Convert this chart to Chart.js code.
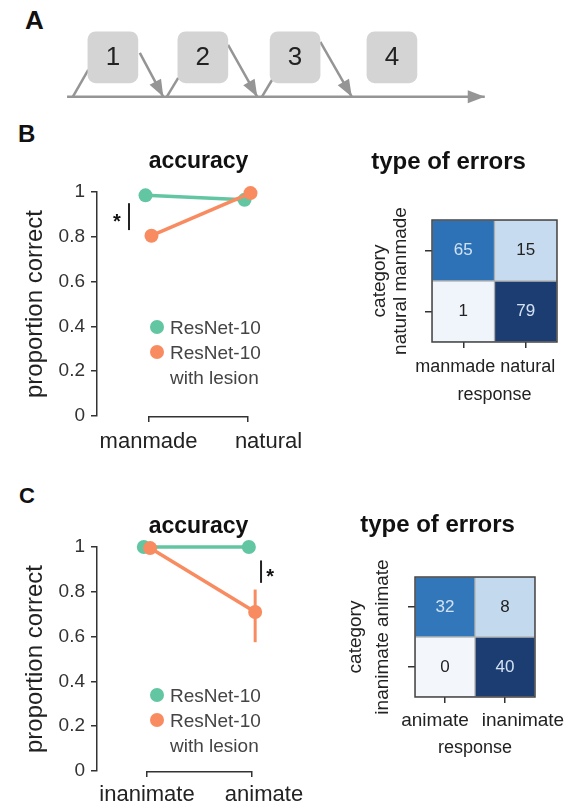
<!DOCTYPE html>
<html>
<head>
<meta charset="utf-8">
<title>ResNet-10 lesion</title>
<script src="https://cdn.jsdelivr.net/npm/chart.js@4.4.1/dist/chart.umd.min.js"></script>
<style>
  html, body { margin: 0; background: #fff; }
  #fig { position: relative; width: 573px; height: 804px; overflow: hidden;
         font-family: 'Liberation Sans', Arial, Helvetica, sans-serif; color: #222; }
  #fig canvas { position: absolute; }
  .letter { position: absolute; font-weight: bold; line-height: 1; color: #111; }
  .legend { position: absolute; font-size: 19px; line-height: 25px; color: #444; white-space: pre-line; }
  .legend .item { display: flex; align-items: flex-start; }
  .legend .dot { flex: none; width: 14px; height: 14px; border-radius: 50%; margin: 5.5px 6px 0 0; }
</style>
</head>
<body>
<div id="fig">
  <div class="letter" style="left:25px;top:7px;font-size:26px">A</div>
  <div class="letter" style="left:18px;top:122px;font-size:24px">B</div>
  <div class="letter" style="left:19px;top:485px;font-size:22px">C</div>
  <canvas id="trial" width="573" height="110" style="left:0;top:0"></canvas>
  <canvas id="accB" width="320" height="335" style="left:0;top:125px"></canvas>
  <canvas id="errB" width="302" height="290" style="left:340px;top:125px"></canvas>
  <canvas id="accC" width="320" height="314" style="left:0;top:490px"></canvas>
  <canvas id="errC" width="272" height="270" style="left:340px;top:490px"></canvas>
</div>
<script>
// A: trial sequence (x = time, y = height above the time line)
const steps = ['1', '2', '3', '4'];
const stepTime = [1.97, 3.54, 5.15, 6.84];
const timeline = [[1.17, 0], [8.46, 0]];
const stepIn = [
  [[1.27, 0], [1.54, 2.45]],
  [[2.91, 0], [3.11, 1.73]],
  [[4.57, 0], [4.75, 1.55]]
];
const stepOut = [
  [[2.44, 4.0], [2.85, 0]],
  [[3.98, 4.73], [4.49, 0]],
  [[5.59, 5.0], [6.14, 0]]
];

const seriesNames = ['ResNet-10', 'ResNet-10\nwith lesion'];

// B: manmade vs natural
const catsB = ['manmade', 'natural'];
const intactB = [0.985, 0.965];
const lesionB = [0.805, 0.995];
const lesionLowB = [0.785, 0.99];
const lesionHighB = [0.825, 1.0];
const sigB = { index: 0, from: 0.83, to: 0.95 };
const classesB = ['manmade', 'natural'];
const countsB = [[65, 15], [1, 79]];

// C: inanimate vs animate
const catsC = ['inanimate', 'animate'];
const intactC = [1.0, 1.0];
const lesionC = [0.995, 0.71];
const lesionLowC = [0.99, 0.575];
const lesionHighC = [1.0, 0.81];
const sigC = { index: 1, from: 0.84, to: 0.94 };
const classesC = ['animate', 'inanimate'];
const countsC = [[32, 8], [0, 40]];

const FONT = "'Liberation Sans', Arial, Helvetica, sans-serif";
const GREEN = '#62c6a2';
const ORANGE = '#f88b5f';
const GREY = '#959595';
const AXIS = '#333';
Chart.defaults.font.family = FONT;
Chart.defaults.color = '#222';

const base = { animation: false, responsive: false, devicePixelRatio: 1, events: [] };

// matplotlib-like Blues ramp
const BLUES = [[0, [243, 247, 252]], [0.19, [198, 219, 239]], [0.5, [106, 174, 214]], [0.82, [45, 115, 183]], [1, [28, 61, 114]]];
function blues(t) {
  for (let i = 1; i < BLUES.length; i++) {
    const [t0, c0] = BLUES[i - 1], [t1, c1] = BLUES[i];
    if (t <= t1) {
      const f = (t - t0) / (t1 - t0);
      return 'rgb(' + c0.map((c, k) => Math.round(c + (c1[k] - c) * f)).join(',') + ')';
    }
  }
  return 'rgb(28,61,114)';
}

// ---- plugins ----
const arrowHeads = {
  id: 'arrowHeads',
  afterDatasetsDraw(chart) {
    const ctx = chart.ctx;
    chart.data.datasets.forEach((ds, i) => {
      if (!ds.arrow) return;
      const pts = chart.getDatasetMeta(i).data;
      const a = pts[pts.length - 2], b = pts[pts.length - 1];
      ctx.save();
      ctx.translate(b.x, b.y);
      ctx.rotate(Math.atan2(b.y - a.y, b.x - a.x));
      ctx.beginPath();
      ctx.moveTo(0, 0);
      ctx.lineTo(-17, -6.5);
      ctx.lineTo(-17, 6.5);
      ctx.closePath();
      ctx.fillStyle = ds.borderColor;
      ctx.fill();
      ctx.restore();
    });
  }
};

const stepNumbers = {
  id: 'stepNumbers',
  afterDatasetsDraw(chart) {
    const ctx = chart.ctx;
    ctx.save();
    ctx.font = '26px ' + FONT;
    ctx.fillStyle = '#222';
    ctx.textAlign = 'center';
    ctx.textBaseline = 'middle';
    chart.getDatasetMeta(0).data.forEach((box, i) => {
      ctx.fillText(steps[i], box.x, (box.y + box.base) / 2 + 1);
    });
    ctx.restore();
  }
};

const accuracyDecor = {
  id: 'accuracyDecor',
  afterDraw(chart, args, o) {
    const { ctx, chartArea: area, scales: { x, y } } = chart;
    ctx.save();
    // bracket spanning the category ticks
    ctx.strokeStyle = AXIS;
    ctx.lineWidth = 1.5;
    ctx.beginPath();
    ctx.moveTo(x.getPixelForValue(0), area.bottom + 0.75);
    ctx.lineTo(x.getPixelForValue(o.labels.length - 1), area.bottom + 0.75);
    ctx.stroke();
    ctx.fillStyle = '#222';
    ctx.font = '22px ' + FONT;
    ctx.textAlign = 'center';
    ctx.textBaseline = 'middle';
    o.labels.forEach((t, i) => ctx.fillText(t, x.getPixelForValue(i) + o.labelDx[i], area.bottom + o.labelDy));
    // significance star
    const sx = x.getPixelForValue(o.sig.index + o.sigDx) + o.starDx;
    const sy = y.getPixelForValue((o.sig.from + o.sig.to) / 2);
    ctx.fillStyle = '#111';
    ctx.font = 'bold 20px ' + FONT;
    ctx.textBaseline = 'alphabetic';
    ctx.fillText('*', sx, sy + 11);
    ctx.restore();
  }
};

const cellText = {
  id: 'cellText',
  afterDatasetsDraw(chart, args, o) {
    const { ctx, chartArea: area, scales: { x } } = chart;
    ctx.save();
    ctx.textAlign = 'center';
    ctx.textBaseline = 'middle';
    ctx.font = '17px ' + FONT;
    chart.data.datasets.forEach((ds, di) => {
      chart.getDatasetMeta(di).data.forEach((bar, i) => {
        const v = ds.counts[i];
        ctx.fillStyle = v / o.max > 0.5 ? '#d3e2f2' : '#222';
        ctx.fillText(String(v), bar.x, (bar.y + bar.base) / 2);
      });
    });
    ctx.strokeStyle = '#444';
    ctx.lineWidth = 1.5;
    ctx.strokeRect(area.left, area.top, area.right - area.left, area.bottom - area.top);
    ctx.fillStyle = '#222';
    ctx.font = o.labelSize + 'px ' + FONT;
    o.labels.forEach((t, i) => ctx.fillText(t, x.getPixelForValue(i) + o.labelDx[i], area.bottom + o.labelDy));
    ctx.restore();
  }
};

// ---- A ----
const lineStyle = { type: 'line', borderColor: GREY, borderWidth: 2.5, pointRadius: 0, clip: false, order: 1 };
const seg = (s, arrow) => Object.assign({ data: s.map(([x, y]) => ({ x, y })), arrow }, lineStyle);

new Chart(document.getElementById('trial'), {
  type: 'line',
  data: {
    datasets: [
      { type: 'bar', data: stepTime.map(t => ({ x: t, y: [1.27, 5.91] })), backgroundColor: '#d4d4d4',
        borderRadius: 8, borderSkipped: false, barThickness: 50, order: 0 },
      seg(timeline, true),
      ...stepIn.map(s => seg(s, false)),
      ...stepOut.map(s => seg(s, true))
    ]
  },
  options: {
    ...base,
    layout: { padding: 0 },
    plugins: { legend: { display: false }, tooltip: { enabled: false } },
    scales: {
      x: { type: 'linear', min: 0, max: 10, display: false, offset: false },
      y: { type: 'linear', min: -1.2, max: 8.8, display: false }
    }
  },
  plugins: [arrowHeads, stepNumbers]
});

// ---- accuracy panels ----
function accuracyChart(id, d, cfg) {
  const dodge = 0.03;
  const at = (vals, dx) => vals.map((v, i) => ({ x: i + dx, y: v }));
  const marks = { borderWidth: 3.5, pointRadius: 7, pointBorderWidth: 0, clip: false };
  const datasets = [
    { label: seriesNames[0], data: at(d.intact, -dodge), borderColor: GREEN, backgroundColor: GREEN, order: 2, ...marks },
    { label: seriesNames[1], data: at(d.lesion, dodge), borderColor: ORANGE, backgroundColor: ORANGE, order: 1, ...marks }
  ];
  d.low.forEach((lo, i) => datasets.push({
    data: [{ x: i + dodge, y: lo }, { x: i + dodge, y: d.high[i] }],
    borderColor: ORANGE, borderWidth: 3, pointRadius: 0, order: 3, clip: false
  }));
  const sx = d.sig.index + cfg.sigDx;
  datasets.push({
    data: [{ x: sx, y: d.sig.from }, { x: sx, y: d.sig.to }],
    borderColor: '#222', borderWidth: 2, pointRadius: 0, order: 4, clip: false
  });

  return new Chart(document.getElementById(id), {
    type: 'line',
    data: { datasets },
    options: {
      ...base,
      layout: { padding: { top: cfg.top, right: 20, left: 0, bottom: 0 } },
      plugins: {
        legend: { display: false },
        tooltip: { enabled: false },
        title: { display: true, text: 'accuracy', color: '#111', fullSize: false,
                 font: { size: 23, weight: 'bold', lineHeight: 1.2 }, padding: { top: 0, bottom: cfg.titleGap } },
        accuracyDecor: { labels: d.cats, labelDx: cfg.labelDx, labelDy: cfg.labelDy, sig: d.sig, sigDx: cfg.sigDx, starDx: cfg.starDx }
      },
      scales: {
        x: {
          type: 'linear', min: cfg.xMin, max: cfg.xMax,
          afterBuildTicks: s => { s.ticks = d.cats.map((c, i) => ({ value: i })); },
          ticks: { display: false },
          grid: { drawOnChartArea: false, drawTicks: true, tickLength: 6, color: AXIS, lineWidth: 1.5 },
          border: { display: false },
          afterFit: s => { s.height = cfg.xHeight; }
        },
        y: {
          min: 0, max: 1,
          ticks: { stepSize: 0.2, padding: 6, color: AXIS, font: { size: 19 },
                   callback: v => (v === 0 || v === 1) ? String(v) : v.toFixed(1) },
          grid: { drawOnChartArea: false, tickLength: 6, color: AXIS, lineWidth: 1.5 },
          border: { color: AXIS, width: 1.5 },
          title: { display: true, text: 'proportion correct', color: '#222',
                   font: { size: 24, lineHeight: 1.2 }, padding: { top: 20.6, bottom: 0 } },
          afterFit: s => { s.width = 97; }
        }
      }
    },
    plugins: [accuracyDecor]
  });
}

// ---- confusion matrices ----
function errorMatrix(id, classes, counts, cfg) {
  const max = Math.max(...counts.flat());
  const datasets = classes.map((c, r) => ({
    label: c,
    data: classes.map(() => 1),
    counts: counts[r],
    backgroundColor: counts[r].map(v => blues(v / max)),
    borderColor: 'rgba(100,100,100,0.45)', borderWidth: 1, borderSkipped: false,
    barPercentage: 1, categoryPercentage: 1
  })).reverse();

  return new Chart(document.getElementById(id), {
    type: 'bar',
    data: { labels: classes, datasets },
    options: {
      ...base,
      layout: { padding: { top: cfg.top, right: cfg.right, left: 0, bottom: 0 } },
      plugins: {
        legend: { display: false },
        tooltip: { enabled: false },
        // full-width title, centred on the (wider) canvas
        title: { display: true, text: 'type of errors', color: '#111', fullSize: true,
                 font: { size: 24, weight: 'bold', lineHeight: 1.2 }, padding: { top: 0, bottom: cfg.titleGap } },
        cellText: { max, labels: classes, labelDx: cfg.labelDx, labelDy: cfg.labelDy, labelSize: cfg.labelSize }
      },
      scales: {
        x: {
          stacked: true,
          ticks: { display: false },
          grid: { offset: false, drawOnChartArea: false, tickLength: 6, color: AXIS, lineWidth: 1.5 },
          border: { display: false },
          title: { display: true, text: 'response', color: '#222',
                   font: { size: 18, lineHeight: 1.2 }, padding: { top: 0, bottom: cfg.respPad } },
          afterFit: s => { s.height = cfg.xHeight; }
        },
        y: {
          stacked: true, min: 0, max: classes.length,
          afterBuildTicks: s => { s.ticks = classes.map((c, i) => ({ value: i + 0.5 })); },
          ticks: { display: false },
          grid: { drawOnChartArea: false, tickLength: 7, color: AXIS, lineWidth: 1.5 },
          border: { display: false },
          title: { display: true, text: ['category', classes.slice().reverse().join(' ')], color: '#222',
                   font: { size: 19, lineHeight: cfg.yLine }, padding: { top: cfg.yPad, bottom: 0 } },
          afterFit: s => { s.width = cfg.yWidth; }
        }
      }
    },
    plugins: [cellText]
  });
}

accuracyChart('accB',
  { cats: catsB, intact: intactB, lesion: lesionB, low: lesionLowB, high: lesionHighB, sig: sigB },
  { top: 23.2, titleGap: 16.2, xHeight: 44, xMin: -0.52, xMax: 1.53,
    labelDx: [0, 21], labelDy: 26, sigDx: -0.197, starDx: -12 });

accuracyChart('accC',
  { cats: catsC, intact: intactC, lesion: lesionC, low: lesionLowC, high: lesionHighC, sig: sigC },
  { top: 23.2, titleGap: 6.2, xHeight: 33, xMin: -0.476, xMax: 1.457,
    labelDx: [0, 12], labelDy: 24, sigDx: 0.086, starDx: 9 });

errorMatrix('errB', classesB, countsB,
  { top: 22.6, titleGap: 43.6, right: 85, xHeight: 73, yWidth: 92, yPad: 29.5, yLine: 1.1,
    labelDx: [-8, 2], labelDy: 25, labelSize: 18, respPad: 9.2 });

errorMatrix('errC', classesC, countsC,
  { top: 20.6, titleGap: 37.6, right: 77, xHeight: 63, yWidth: 75, yPad: 2.7, yLine: 1.4,
    labelDx: [-10, 18], labelDy: 24, labelSize: 19, respPad: 1.5 });

// legends inside the accuracy panels
const fig = document.getElementById('fig');
function addLegend(top) {
  const box = document.createElement('div');
  box.className = 'legend';
  box.style.left = '150px';
  box.style.top = top + 'px';
  seriesNames.forEach((name, i) => {
    const item = document.createElement('div');
    item.className = 'item';
    const dot = document.createElement('span');
    dot.className = 'dot';
    dot.style.background = [GREEN, ORANGE][i];
    const txt = document.createElement('span');
    txt.textContent = name;
    item.append(dot, txt);
    box.appendChild(item);
  });
  fig.appendChild(box);
}
addLegend(314.5);
addLegend(682.5);
</script>
</body>
</html>
